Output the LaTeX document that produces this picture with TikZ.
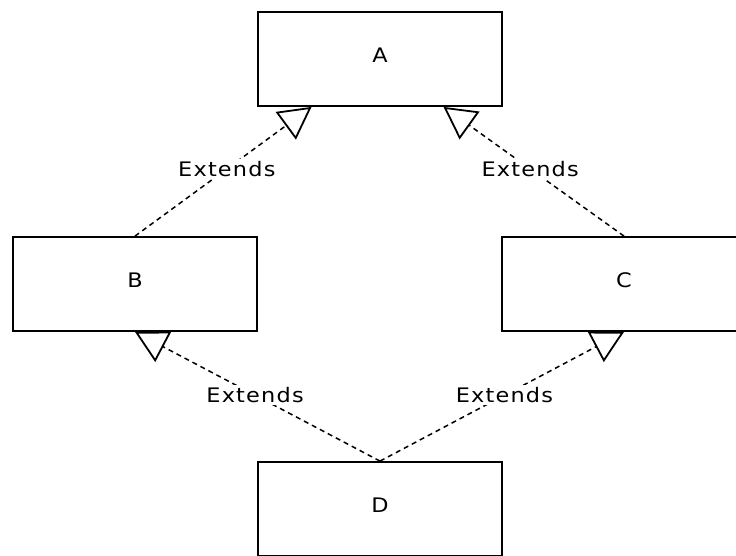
\documentclass[tikz,border=0pt]{standalone}
\usepackage{fontspec}
\setmainfont[FakeStretch=1.12,LetterSpace=6]{DejaVu Sans}
\usetikzlibrary{arrows.meta}

\begin{document}
\begin{tikzpicture}[x=1pt,y=1pt,
  cls/.style={draw,line width=1.8pt,fill=white,minimum width=244pt,minimum height=94pt,text depth=8pt,font=\fontsize{20}{24}\selectfont},
  extends/.style={dash pattern=on 5pt off 4pt,line width=1.5pt,-{Triangle[open,length=32pt,width=34pt,line width=1.8pt]}},
  lbl/.style={fill=white,inner sep=2pt,font=\fontsize{20}{24}\selectfont}]
\useasboundingbox (0,0) rectangle (736,555);
\clip (0,0) rectangle (736,555);
% classes
\node[cls] (A) at (380,496) {A};
\node[cls] (B) at (135,271) {B};
\node[cls] (C) at (624,271) {C};
\node[cls] (D) at (380,46) {D};
% generalisations
\draw[extends] (B.north) -- node[lbl,pos=0.52]{Extends} (A.215);
\draw[extends] (C.north) -- node[lbl,pos=0.52]{Extends} (A.323);
\draw[extends] (D.north) -- node[lbl,pos=0.51]{Extends} (B.south);
\draw[extends] (D.north) -- node[lbl,pos=0.51]{Extends} (C.south);
\end{tikzpicture}
\end{document}
